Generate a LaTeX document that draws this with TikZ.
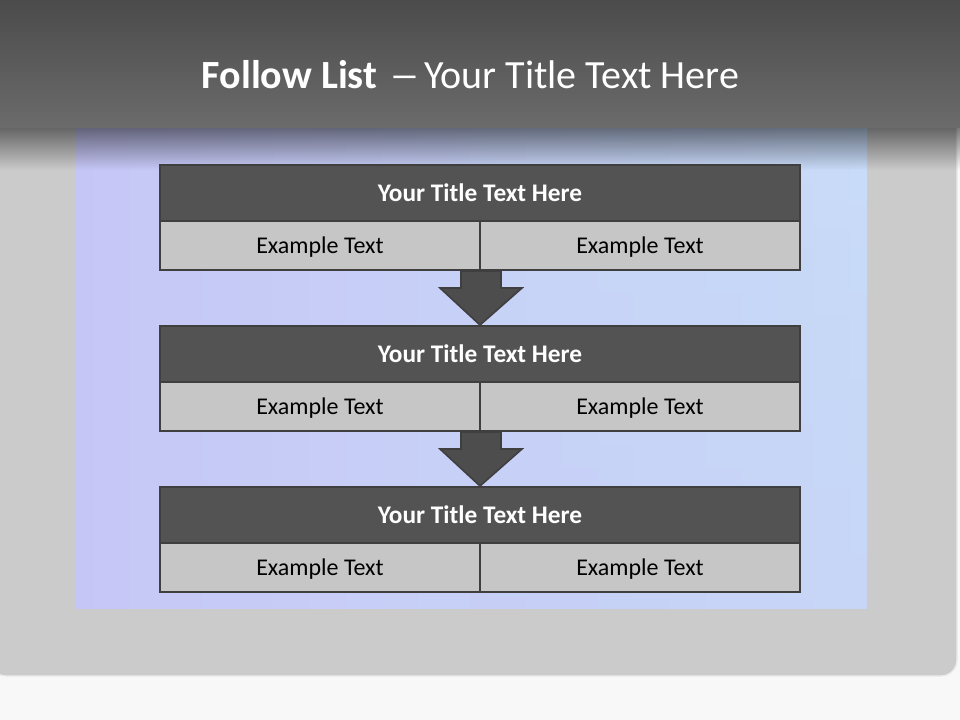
\documentclass[tikz,border=0pt]{standalone}
\usepackage{fontspec}
\setmainfont{Carlito}
\usetikzlibrary{calc,fadings}
\definecolor{bgwhite}{HTML}{F8F8F8}
\definecolor{framegray}{HTML}{CBCBCB}
\definecolor{barTop}{HTML}{4B4B4B}
\definecolor{barBot}{HTML}{6B6B6B}
\definecolor{lav}{HTML}{C6C6F6}
\definecolor{lblue}{HTML}{C8DCF8}
\definecolor{edge}{HTML}{3F3F3F}
\definecolor{headfill}{HTML}{535353}
\definecolor{itemfill}{HTML}{C6C6C6}
\definecolor{arrowfill}{HTML}{4D4D4D}
\tikzfading[name=shadowfade, top color=transparent!50, bottom color=transparent!100]
\tikzset{
  headbox/.style={draw=edge, line width=1.5pt, fill=headfill, text=white,
    minimum width=480pt, minimum height=42pt, inner sep=0pt,
    font=\fontsize{19}{22}\selectfont\bfseries},
  itembox/.style={draw=edge, line width=1.5pt, fill=itemfill, text=black,
    minimum width=240pt, minimum height=36.75pt, inner sep=0pt, text depth=0pt,
    font=\fontsize{18}{21}\selectfont},
  downarrow/.style={draw=edge, line width=1.2pt, fill=arrowfill, line join=miter}
}
\begin{document}
\begin{tikzpicture}[x=0.75pt,y=-0.75pt]
\useasboundingbox (0,0) rectangle (960,720);
% background
\fill[bgwhite] (0,0) rectangle (960,720);
% frame
\fill[framegray, draw=white!92!black, line width=1pt, rounded corners=12pt]
  (-10,100) rectangle (957,676);
\fill[framegray] (0,100) rectangle (945,668);
% blue panel
\shade[left color=lav, right color=lblue] (75,128) rectangle (867,608);
\shade[top color=lblue, bottom color=lav, opacity=0.25] (470,128) rectangle (867,608);
% shadow below title bar
\fill[black, path fading=shadowfade] (0,128) rectangle (960,170);
% title bar
\shade[top color=barTop, bottom color=barBot] (0,0) rectangle (960,128);
\node[text=white, font=\fontsize{30}{36}\selectfont] (maintitle) at (470.5,75)
  {\textbf{Follow List}\hspace{9pt}\scalebox{1.55}[1]{–}\hspace{3pt}Your Title Text Here};
% rows
\node[headbox] (h1) at (480,193) {Your Title Text Here};
\node[itembox] (a1) at (320,245.5) {Example Text};
\node[itembox] (b1) at (640,245.5) {Example Text};
\node[headbox] (h2) at (480,354) {Your Title Text Here};
\node[itembox] (a2) at (320,406.5) {Example Text};
\node[itembox] (b2) at (640,406.5) {Example Text};
\node[headbox] (h3) at (480,515) {Your Title Text Here};
\node[itembox] (a3) at (320,567.5) {Example Text};
\node[itembox] (b3) at (640,567.5) {Example Text};
% arrows
\foreach \s/\t in {a1/h2, a2/h3}{
  \draw[downarrow]
    ($(\s.south east)+(-20,0)$) -- ($(\s.south east)+(20,0)$)
    -- ($(\s.south east)+(20,17)$) -- ($(\s.south east)+(41,17)$)
    -- (\t.north) -- ($(\s.south east)+(-41,17)$)
    -- ($(\s.south east)+(-20,17)$) -- cycle;
}
\end{tikzpicture}
\end{document}
